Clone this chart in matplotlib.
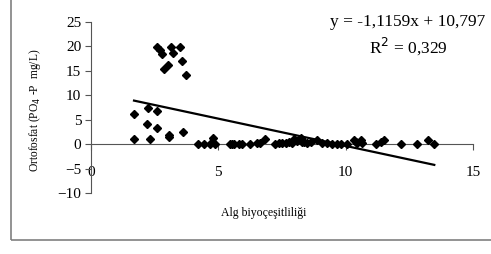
import matplotlib.pyplot as plt
import matplotlib.patches as patches
import numpy as np

# Alg biyocesitliligi vs ortofosfat
alg = [1.69, 1.69, 2.30, 2.19, 2.22, 2.58, 2.58, 3.08, 3.08, 3.63,
       2.61, 2.72, 2.80, 2.85, 3.04, 3.14, 3.24, 3.48, 3.57, 3.74,
       4.19, 4.42, 4.69, 4.81, 4.88, 5.47, 5.55, 5.63, 5.80, 5.93,
       6.26, 6.52, 6.65, 6.85, 7.24, 7.37, 7.51, 7.64, 7.77, 7.90,
       7.97, 8.10, 8.23, 8.30, 8.36, 8.49, 8.62, 8.89, 9.08, 9.28,
       9.48, 9.67, 9.80, 10.07, 10.33, 10.40, 10.46, 10.59, 10.66, 11.18,
       11.38, 11.51, 12.17, 12.82, 13.22, 13.48]
fosfat = [1.0, 6.2, 1.0, 4.1, 7.3, 6.7, 3.4, 1.8, 1.4, 2.4,
          19.9, 19.2, 18.5, 15.3, 16.2, 19.9, 18.6, 19.9, 17.1, 14.2,
          0.0, 0.0, 0.0, 1.3, 0.0, 0.0, 0.0, 0.0, 0.0, 0.0,
          0.0, 0.2, 0.3, 1.0, 0.0, 0.2, 0.2, 0.3, 0.5, 0.3,
          1.0, 0.6, 1.2, 0.4, 0.5, 0.2, 0.5, 0.8, 0.2, 0.2,
          0.1, 0.0, 0.1, 0.1, 0.9, 0.4, 0.3, 0.9, 0.2, 0.1,
          0.5, 0.8, 0.0, 0.0, 0.9, 0.0]
egim = -1.1159
kesisim = 10.797
r2 = 0.329

plt.rcParams['font.family'] = ['Liberation Serif', 'DejaVu Serif']

fig = plt.figure(figsize=(4.91, 2.54), dpi=100)
ax = fig.add_axes([0.1853, 0.2402, 0.778, 0.6732])

# dis cerceve
cerceve = patches.Rectangle((11 / 491, 1 - 240 / 254), 1.0, 1.0, transform=fig.transFigure,
                            fill=False, edgecolor='#808080', linewidth=1.2, clip_on=False)
fig.patches.append(cerceve)

ax.plot(alg, fosfat, 'D', color='black', markersize=4.5, clip_on=False, zorder=3)

xx = np.array([min(alg), max(alg)])
ax.plot(xx, egim * xx + kesisim, '-', color='black', linewidth=1.6, zorder=2)

ax.set_xlim(0, 15)
ax.set_ylim(-10, 25)
ax.set_xticks([0, 5, 10, 15])
ax.set_yticks([-10, -5, 0, 5, 10, 15, 20, 25])
ax.set_yticklabels(['\u221210', '\u22125', '0', '5', '10', '15', '20', '25'])

for s in ['top', 'right']:
    ax.spines[s].set_visible(False)
ax.spines['bottom'].set_position(('data', 0))
ax.spines['left'].set_position(('data', 0))
for s in ['bottom', 'left']:
    ax.spines[s].set_color('#555555')
    ax.spines[s].set_linewidth(0.8)

ax.tick_params(axis='x', direction='out', length=4, width=0.8, color='#555555', labelsize=11, pad=12)
ax.tick_params(axis='y', direction='out', length=4, width=0.8, color='#555555', labelsize=11, pad=3)

fig.text(35 / 491, 1 - 110 / 254, 'Ortofosfat (PO$_4$ -P  mg/L)', rotation=90,
         ha='center', va='center', fontsize=8.3)
fig.text(264 / 491, 1 - 213 / 254, 'Alg biyoçeşitliliği', ha='center', va='center', fontsize=8.5)

fig.text(408 / 491, 1 - 22 / 254, 'y = -1,1159x + 10,797', ha='center', va='center', fontsize=12.5)
fig.text(408 / 491, 1 - 46 / 254, 'R$^2$ = 0,329', ha='center', va='center', fontsize=12.5)

fig.savefig('out.png', dpi=100)
